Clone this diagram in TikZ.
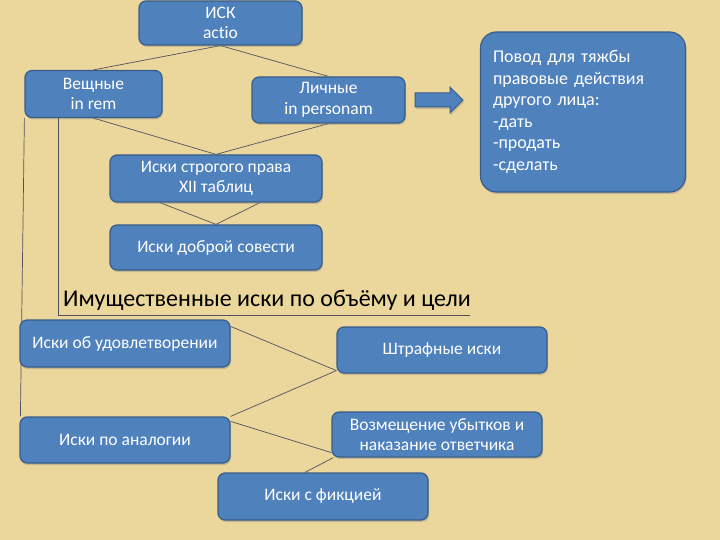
\documentclass[tikz,border=0pt]{standalone}
\usepackage{fontspec}
\setmainfont{Carlito}[Ligatures=NoCommon]
\usetikzlibrary{calc,shadows}
\definecolor{paper}{RGB}{235,214,156}
\definecolor{boxblue}{RGB}{79,129,189}
\definecolor{boxedge}{RGB}{56,93,138}
\definecolor{linec}{RGB}{80,82,95}
\pgfdeclarelayer{back}
\pgfdeclarelayer{lines}
\pgfsetlayers{back,lines,main}
\begin{document}
\begin{tikzpicture}[x=1pt,y=-1pt,
  box/.style={draw=boxedge, line width=1.2pt, fill=boxblue, rounded corners=7pt,
    text=white, align=center, font=\fontsize{17.5}{20.5}\selectfont, inner sep=0pt,
    drop shadow={shadow xshift=1pt,shadow yshift=-2pt,opacity=0.35}},
  conn/.style={draw=linec, line width=0.7pt}]
\begin{pgfonlayer}{back}
  \fill[paper] (0,0) rectangle (720,540);
\end{pgfonlayer}
\useasboundingbox (0,0) rectangle (720,540);

\node[box, minimum width=163pt, minimum height=44pt] (isk) at (220.5,23) {ИСК\\actio};
\node[box, minimum width=137pt, minimum height=47pt] (veshch) at (93.5,94) {Вещные\\in rem};
\node[box, minimum width=153pt, minimum height=46pt] (lich) at (328.5,100) {Личные\\in personam};
\node[box, rounded corners=16pt, minimum width=205pt, minimum height=160pt, text width=180pt,
  align=left, font=\fontsize{18}{21.5}\selectfont] (povod) at (583,112)
  {Повод для тяжбы\\правовые действия\\другого лица:\\-дать\\-продать\\-сделать};
\node[box, minimum width=212pt, minimum height=47pt] (strog) at (216,178.5) {Иски строгого права\\XII таблиц};
\node[box, minimum width=212pt, minimum height=45pt] (dobr) at (216,247.5) {Иски доброй совести};
\node[font=\fontsize{24}{28}\selectfont, text=black, inner sep=0pt] (title) at (267,300)
  {Имущественные иски по объёму и цели};
\node[box, minimum width=210pt, minimum height=47pt] (udov) at (125,343.5) {Иски об удовлетворении};
\node[box, minimum width=210pt, minimum height=46pt] (shtraf) at (442,350) {Штрафные иски};
\node[box, minimum width=210pt, minimum height=46pt] (analog) at (125,440) {Иски по аналогии};
\node[box, minimum width=210pt, minimum height=45pt] (vozm) at (437,434.5) {Возмещение убытков и\\наказание ответчика};
\node[box, minimum width=210pt, minimum height=47pt] (fikc) at (323,496.5) {Иски с фикцией};

% block arrow
\filldraw[fill=boxblue, draw=boxedge, line width=1pt, drop shadow={shadow xshift=1pt,shadow yshift=-2pt,opacity=0.35}]
  (415,93) -- (450,93) -- (450,87) -- (463,100) -- (450,113) -- (450,107) -- (415,107) -- cycle;

\coordinate (brend) at (470,315);
\begin{pgfonlayer}{lines}
  \draw[conn] (isk.south) -- (veshch.north);
  \draw[conn] (isk.south) -- (lich.north);
  \draw[conn] (veshch.south) -- (strog.north);
  \draw[conn] (lich.south) -- (strog.north);
  \draw[conn] ($(strog.south)+(-56,0)$) -- (dobr.north);
  \draw[conn] ($(strog.south)+(44,0)$) -- (dobr.north);
  \draw[conn] ($(veshch.south west)+(34,0)$) |- (brend);
  \draw[conn] (veshch.south west) -- ($(analog.north west)+(1,0)$);
  \draw[conn] ($(udov.north east)+(0,7)$) -- ($(shtraf.south west)+(0,-3)$);
  \draw[conn] (analog.north east) -- ($(shtraf.south west)+(0,-3)$);
  \draw[conn] ($(analog.north east)+(0,5)$) -- ($(vozm.south west)+(0,-5)$);
  \draw[conn] ($(fikc.north)+(-18,0)$) -- ($(vozm.south west)+(2,0)$);
\end{pgfonlayer}
\end{tikzpicture}
\end{document}
